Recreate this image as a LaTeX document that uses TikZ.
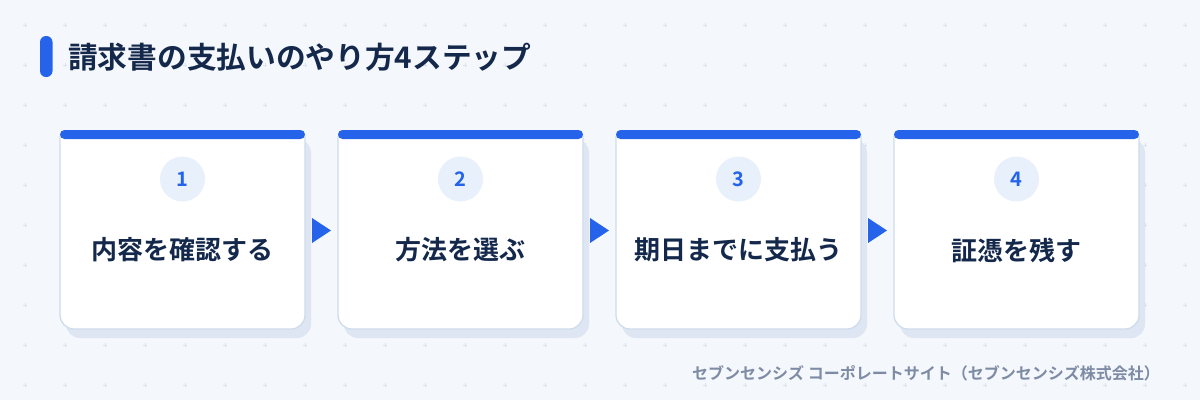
\documentclass[tikz,border=0pt]{standalone}
\usepackage{fontspec}
\setmainfont{Noto Sans CJK JP}[BoldFont={Noto Sans CJK JP Bold}]
\definecolor{bg}{HTML}{F4F7FC}
\definecolor{gridc}{HTML}{DCE3EE}
\definecolor{blue}{HTML}{2563EB}
\definecolor{navy}{HTML}{13284B}
\definecolor{cardborder}{HTML}{CFDCEC}
\definecolor{shadowc}{HTML}{DDE6F2}
\definecolor{circlec}{HTML}{E8F0FC}
\definecolor{footc}{HTML}{7D8BA4}
\tikzset{
  plusmark/.style={draw=gridc, line width=0.9pt},
  cardshadow/.style={fill=shadowc, rounded corners=14pt},
  cardbody/.style={fill=white, draw=cardborder, line width=1.3pt},
  topbar/.style={fill=blue, rounded corners=4.5pt},
  numcircle/.style={circle, fill=circlec, minimum size=45pt, inner sep=0pt, text=blue, font=\bfseries\fontsize{20pt}{22pt}\selectfont},
  steplabel/.style={text=navy, font=\bfseries\fontsize{26pt}{30pt}\selectfont, inner sep=0pt},
  steparrow/.style={fill=blue},
}
\begin{document}
\begin{tikzpicture}[x=1pt,y=-1pt]
\useasboundingbox (0,0) rectangle (1200,400);
\fill[bg] (0,0) rectangle (1200,400);
% dot grid
\foreach \i in {0,...,29}{
  \foreach \j in {0,...,9}{
    \draw[plusmark] ({25+40*\i-2},{25+40*\j}) -- ({25+40*\i+2},{25+40*\j});
    \draw[plusmark] ({25+40*\i},{25+40*\j-2}) -- ({25+40*\i},{25+40*\j+2});
  }
}
% title
\fill[blue, rounded corners=6pt] (40,36) rectangle (52.5,77);
\node[anchor=west, text=navy, inner sep=0pt, font=\bfseries\fontsize{29.7pt}{34pt}\selectfont] (title) at (68,57) {請求書の支払いのやり方4ステップ};
% cards
\foreach \k/\n/\lab in {0/1/内容を確認する, 1/2/方法を選ぶ, 2/3/期日までに支払う, 3/4/証憑を残す}{
  \pgfmathsetmacro{\xl}{60+278*\k}
  \pgfmathsetmacro{\xr}{\xl+245}
  \pgfmathsetmacro{\xc}{\xl+122.5}
  \fill[cardshadow] ({\xl+6},139) rectangle ({\xr+6},338);
  \draw[cardbody] (\xl,133) [rounded corners=4pt] -- (\xr,133) [rounded corners=14pt] -- (\xr,329) -- (\xl,329) [rounded corners=4pt] -- cycle;
  \fill[topbar] (\xl,130) rectangle (\xr,139);
  \node[numcircle] (c\n) at (\xc,179) {\n};
  \node[steplabel] (l\n) at (\xc,250) {\lab};
}
% arrows between cards
\foreach \k in {0,1,2}{
  \pgfmathsetmacro{\ax}{312+278*\k}
  \coordinate (a\k) at (\ax,230.5);
  \fill[steparrow] (a\k) ++(0,-12.5) -- ++(19,12.5) -- ++(-19,12.5) -- cycle;
}
% footer
\node[anchor=west, text=footc, inner sep=0pt, font=\bfseries\fontsize{16pt}{18pt}\selectfont] (footer) at (692,373) {セブンセンシズ コーポレートサイト（セブンセンシズ株式会社）};
\end{tikzpicture}
\end{document}
